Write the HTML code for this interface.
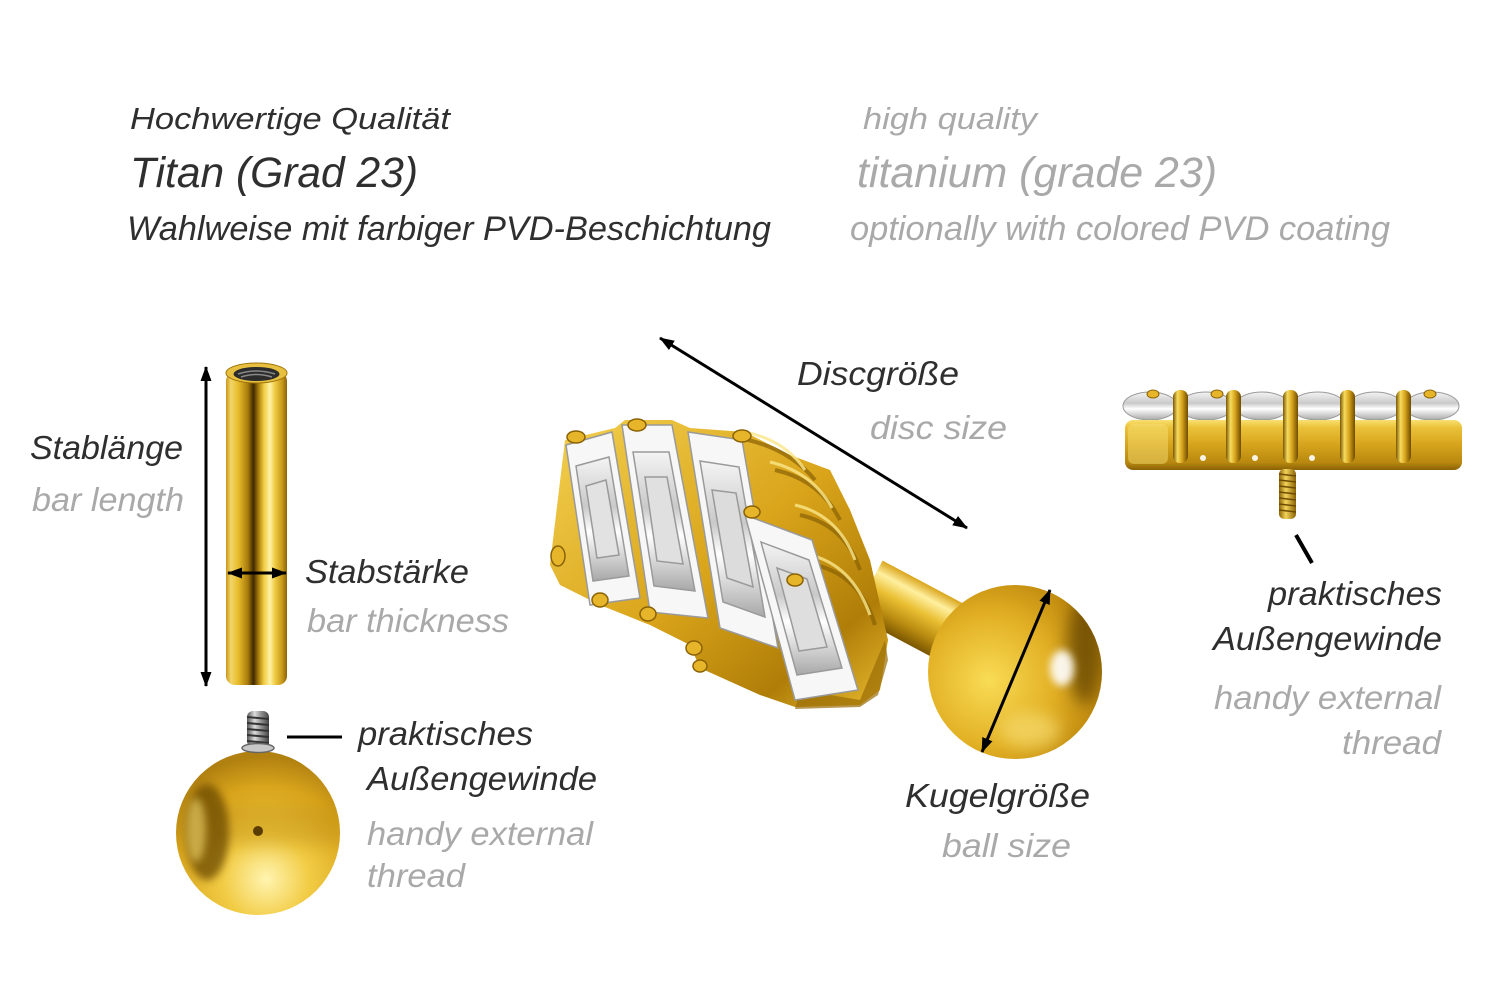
<!DOCTYPE html>
<html>
<head>
<meta charset="utf-8">
<style>
html,body{margin:0;padding:0;background:#fff;}
body{width:1500px;height:1001px;overflow:hidden;}
svg{display:block;}
.t{font-family:"Liberation Sans",Arial,sans-serif;font-style:italic;}
.d{fill:#2f2f2f;}
.g{fill:#a9a9a9;}
</style>
</head>
<body>
<svg width="1500" height="1001" viewBox="0 0 1500 1001" xmlns="http://www.w3.org/2000/svg">
<defs>
  <marker id="ah" markerUnits="userSpaceOnUse" markerWidth="15" markerHeight="11" viewBox="0 0 15 11" refX="14" refY="5.5" orient="auto-start-reverse">
    <path d="M0,0 L15,5.5 L0,11 z" fill="#000"/>
  </marker>
  <linearGradient id="gCyl" x1="0" y1="0" x2="1" y2="0">
    <stop offset="0" stop-color="#c9961a"/>
    <stop offset="0.08" stop-color="#f2d56a"/>
    <stop offset="0.2" stop-color="#e8bd2c"/>
    <stop offset="0.36" stop-color="#a77a0c"/>
    <stop offset="0.45" stop-color="#3e2800"/>
    <stop offset="0.53" stop-color="#a77a0c"/>
    <stop offset="0.62" stop-color="#f0cb40"/>
    <stop offset="0.72" stop-color="#fff3a8"/>
    <stop offset="0.8" stop-color="#f0cd45"/>
    <stop offset="0.92" stop-color="#c8981a"/>
    <stop offset="1" stop-color="#8c6408"/>
  </linearGradient>
  <radialGradient id="gBallL" cx="0.55" cy="0.78" r="0.75">
    <stop offset="0" stop-color="#fff4b0"/>
    <stop offset="0.35" stop-color="#f2cc45"/>
    <stop offset="0.75" stop-color="#d9a51c"/>
    <stop offset="1" stop-color="#b08010"/>
  </radialGradient>
  <radialGradient id="gBallM" cx="0.35" cy="0.55" r="0.75">
    <stop offset="0" stop-color="#f9dc55"/>
    <stop offset="0.5" stop-color="#e2b024"/>
    <stop offset="0.85" stop-color="#c08a0e"/>
    <stop offset="1" stop-color="#9a6c06"/>
  </radialGradient>
  <linearGradient id="gBar" x1="0" y1="0" x2="0" y2="1">
    <stop offset="0" stop-color="#d9a51c"/>
    <stop offset="0.2" stop-color="#fff0a0"/>
    <stop offset="0.45" stop-color="#eabf32"/>
    <stop offset="0.75" stop-color="#b88a10"/>
    <stop offset="1" stop-color="#7a5600"/>
  </linearGradient>
  <linearGradient id="gDisc" x1="0" y1="0" x2="1" y2="1">
    <stop offset="0" stop-color="#f3d050"/>
    <stop offset="0.5" stop-color="#d9a41a"/>
    <stop offset="0.8" stop-color="#b07e08"/>
    <stop offset="1" stop-color="#e8bb30"/>
  </linearGradient>
  <linearGradient id="gRight" x1="0" y1="0" x2="0" y2="1">
    <stop offset="0" stop-color="#f8e070"/>
    <stop offset="0.15" stop-color="#ebc23a"/>
    <stop offset="0.5" stop-color="#d6a41c"/>
    <stop offset="0.85" stop-color="#b8880f"/>
    <stop offset="1" stop-color="#8a6205"/>
  </linearGradient>
  <linearGradient id="gProng" x1="0" y1="0" x2="1" y2="0">
    <stop offset="0" stop-color="#7a5600"/>
    <stop offset="0.3" stop-color="#f6dc60"/>
    <stop offset="0.6" stop-color="#d9a51c"/>
    <stop offset="1" stop-color="#6e4c00"/>
  </linearGradient>
  <linearGradient id="gSilver" x1="0" y1="0" x2="1" y2="0">
    <stop offset="0" stop-color="#555"/>
    <stop offset="0.35" stop-color="#ddd"/>
    <stop offset="0.6" stop-color="#999"/>
    <stop offset="1" stop-color="#444"/>
  </linearGradient>
  <linearGradient id="gThrG" x1="0" y1="0" x2="1" y2="0">
    <stop offset="0" stop-color="#8a6205"/>
    <stop offset="0.4" stop-color="#f3d35a"/>
    <stop offset="1" stop-color="#8a6205"/>
  </linearGradient>
  <linearGradient id="gStone" x1="0" y1="0" x2="0" y2="1">
    <stop offset="0" stop-color="#f4f4f4"/>
    <stop offset="0.4" stop-color="#c9c9c9"/>
    <stop offset="0.6" stop-color="#ffffff"/>
    <stop offset="1" stop-color="#a8a8a8"/>
  </linearGradient>
  <filter id="blur4" x="-50%" y="-50%" width="200%" height="200%"><feGaussianBlur stdDeviation="4"/></filter>
  <filter id="blur8" x="-50%" y="-50%" width="200%" height="200%"><feGaussianBlur stdDeviation="8"/></filter>
  <clipPath id="cBallL"><circle cx="258" cy="833" r="82"/></clipPath>
  <clipPath id="cBallM"><circle cx="1015" cy="672" r="87"/></clipPath>
</defs>

<!-- HEADER TEXT -->
<text class="t d" x="130" y="129" font-size="31" textLength="320" lengthAdjust="spacingAndGlyphs">Hochwertige Qualität</text>
<text class="t d" x="130" y="187" font-size="43" textLength="288" lengthAdjust="spacingAndGlyphs">Titan (Grad 23)</text>
<text class="t d" x="127" y="240" font-size="34" textLength="644" lengthAdjust="spacingAndGlyphs">Wahlweise mit farbiger PVD-Beschichtung</text>
<text class="t g" x="863" y="129" font-size="31" textLength="174" lengthAdjust="spacingAndGlyphs">high quality</text>
<text class="t g" x="857" y="187" font-size="43" textLength="360" lengthAdjust="spacingAndGlyphs">titanium (grade 23)</text>
<text class="t g" x="850" y="240" font-size="34" textLength="540" lengthAdjust="spacingAndGlyphs">optionally with colored PVD coating</text>

<!-- LEFT BAR -->
<rect x="226" y="372" width="61" height="313" rx="9" ry="9" fill="url(#gCyl)"/>
<ellipse cx="256.5" cy="373" rx="30.5" ry="10" fill="#e8c040" stroke="#a07408" stroke-width="1"/>
<ellipse cx="256.5" cy="374" rx="23" ry="7" fill="#2c2c2c"/>
<path d="M238,374 Q256,368 275,374 M241,377 Q256,372 272,377" stroke="#888" stroke-width="1.5" fill="none"/>

<!-- vertical arrow -->
<line x1="206" y1="367" x2="206" y2="686" stroke="#000" stroke-width="3" marker-start="url(#ah)" marker-end="url(#ah)"/>
<!-- horizontal arrow -->
<line x1="228" y1="573" x2="286" y2="573" stroke="#000" stroke-width="3" marker-start="url(#ah)" marker-end="url(#ah)"/>

<!-- LEFT BALL -->
<circle cx="258" cy="833" r="82" fill="url(#gBallL)"/>
<g clip-path="url(#cBallL)">
  <rect x="176" y="805" width="170" height="40" fill="#b8860e" opacity="0.35" filter="url(#blur8)"/>
  <ellipse cx="207" cy="832" rx="22" ry="48" fill="#6a4800" opacity="0.75" filter="url(#blur4)"/>
  <ellipse cx="196" cy="830" rx="10" ry="32" fill="#f6dc70" opacity="0.6" filter="url(#blur4)"/>
</g>
<circle cx="258" cy="831" r="5" fill="#5a3c00"/>
<!-- thread -->
<rect x="247" y="711" width="22" height="36" rx="6" fill="url(#gSilver)"/>
<g stroke="#333" stroke-width="2">
  <line x1="247" y1="717" x2="269" y2="719"/>
  <line x1="247" y1="723" x2="269" y2="725"/>
  <line x1="247" y1="729" x2="269" y2="731"/>
  <line x1="247" y1="735" x2="269" y2="737"/>
  <line x1="247" y1="741" x2="269" y2="743"/>
</g>
<ellipse cx="258" cy="748" rx="16" ry="4.5" fill="#c8c8c8" stroke="#666" stroke-width="1.5"/>
<line x1="287" y1="737" x2="342" y2="737" stroke="#000" stroke-width="3"/>

<!-- LABELS LEFT -->
<text class="t d" x="30" y="459" font-size="33" textLength="153" lengthAdjust="spacingAndGlyphs">Stablänge</text>
<text class="t g" x="32" y="511" font-size="33" textLength="152" lengthAdjust="spacingAndGlyphs">bar length</text>
<text class="t d" x="305" y="583" font-size="33" textLength="164" lengthAdjust="spacingAndGlyphs">Stabstärke</text>
<text class="t g" x="307" y="632" font-size="33" textLength="202" lengthAdjust="spacingAndGlyphs">bar thickness</text>
<text class="t d" x="358" y="745" font-size="33" textLength="175" lengthAdjust="spacingAndGlyphs">praktisches</text>
<text class="t d" x="367" y="790" font-size="33" textLength="230" lengthAdjust="spacingAndGlyphs">Außengewinde</text>
<text class="t g" x="367" y="845" font-size="33" textLength="226" lengthAdjust="spacingAndGlyphs">handy external</text>
<text class="t g" x="367" y="887" font-size="33" textLength="98" lengthAdjust="spacingAndGlyphs">thread</text>

<!-- MIDDLE PIECE -->
<!-- bar -->
<g transform="translate(868,588) rotate(28)">
  <rect x="0" y="-31" width="140" height="62" fill="url(#gBar)"/>
  <ellipse cx="128" cy="0" rx="11" ry="36" fill="#e9bd30" stroke="#9a6c06" stroke-width="2"/>
</g>
<!-- setting base -->
<polygon points="552,548 565,440 615,428 625,420 672,420 690,428 745,432 790,455 830,470 850,510 870,560 888,640 880,690 860,705 795,707 760,695 700,668 690,645 650,625 600,605 560,585 550,565" fill="url(#gDisc)"/>
<!-- ridges on right -->
<g fill="none" stroke="#8a6205" stroke-width="4" opacity="0.7">
  <path d="M748,440 Q790,450 815,480"/>
  <path d="M775,470 Q820,480 840,520"/>
  <path d="M800,515 Q845,525 860,570"/>
  <path d="M815,565 Q860,575 875,625"/>
</g>
<g fill="none" stroke="#fbe78a" stroke-width="3" opacity="0.8">
  <path d="M745,432 Q785,440 805,470"/>
  <path d="M770,462 Q812,472 832,508"/>
  <path d="M795,505 Q838,515 855,560"/>
  <path d="M810,555 Q852,565 870,615"/>
</g>
<!-- bottom plate shading -->
<polygon points="800,690 860,700 885,640 888,660 878,695 860,707 795,709" fill="#9a6c06" opacity="0.7"/>
<!-- stones -->
<g stroke="#9a9a9a" stroke-width="1.5">
  <polygon points="566,445 612,432 640,598 590,605" fill="#f7f7f7"/>
  <polygon points="576,466 609,457 629,576 593,581" fill="url(#gStone)"/>
  <polygon points="586,486 606,480 619,555 597,558" fill="#e2e2e2"/>

  <polygon points="622,425 672,425 708,618 650,612" fill="#f7f7f7"/>
  <polygon points="633,452 669,452 695,591 654,586" fill="url(#gStone)"/>
  <polygon points="645,477 667,477 683,564 657,561" fill="#e0e0e0"/>

  <polygon points="688,432 742,440 778,648 720,628" fill="#f7f7f7"/>
  <polygon points="700,461 739,467 765,617 723,602" fill="url(#gStone)"/>
  <polygon points="712,490 736,493 753,587 727,578" fill="#dcdcdc"/>

  <polygon points="745,515 812,540 858,690 795,700" fill="#f7f7f7"/>
  <polygon points="761,542 809,560 842,668 797,675" fill="url(#gStone)"/>
  <polygon points="777,568 807,579 827,647 799,651" fill="#dedede"/>
</g>
<!-- prongs -->
<g fill="#e6b52a" stroke="#8a6205" stroke-width="1.5">
  <ellipse cx="576" cy="437" rx="9" ry="6"/>
  <ellipse cx="637" cy="425" rx="9" ry="6"/>
  <ellipse cx="742" cy="436" rx="9" ry="6"/>
  <ellipse cx="558" cy="556" rx="7" ry="10"/>
  <ellipse cx="600" cy="600" rx="8" ry="7"/>
  <ellipse cx="648" cy="614" rx="8" ry="7"/>
  <ellipse cx="694" cy="648" rx="8" ry="7"/>
  <ellipse cx="700" cy="666" rx="7" ry="6"/>
  <ellipse cx="752" cy="512" rx="8" ry="6"/>
  <ellipse cx="795" cy="580" rx="8" ry="6"/>
</g>
<!-- ball -->
<circle cx="1015" cy="672" r="87" fill="url(#gBallM)"/>
<g clip-path="url(#cBallM)">
  <ellipse cx="1085" cy="650" rx="18" ry="55" fill="#5a3c00" opacity="0.7" filter="url(#blur8)"/>
  <ellipse cx="1062" cy="668" rx="12" ry="18" fill="#ffffff" opacity="0.9" filter="url(#blur4)"/>
  <ellipse cx="1030" cy="730" rx="30" ry="18" fill="#f6dc70" opacity="0.7" filter="url(#blur8)"/>
</g>
<!-- arrows middle -->
<line x1="660" y1="338" x2="967" y2="528" stroke="#000" stroke-width="3" marker-start="url(#ah)" marker-end="url(#ah)"/>
<line x1="1050" y1="590" x2="982" y2="752" stroke="#000" stroke-width="3" marker-start="url(#ah)" marker-end="url(#ah)"/>

<text class="t d" x="797" y="385" font-size="33" textLength="162" lengthAdjust="spacingAndGlyphs">Discgröße</text>
<text class="t g" x="870" y="439" font-size="33" textLength="137" lengthAdjust="spacingAndGlyphs">disc size</text>
<text class="t d" x="905" y="807" font-size="33" textLength="185" lengthAdjust="spacingAndGlyphs">Kugelgröße</text>
<text class="t g" x="942" y="857" font-size="33" textLength="129" lengthAdjust="spacingAndGlyphs">ball size</text>

<!-- RIGHT PIECE -->
<!-- stones -->
<g stroke="#9a9a9a" stroke-width="1">
  <ellipse cx="1150" cy="406" rx="27" ry="14" fill="url(#gStone)"/>
  <ellipse cx="1206" cy="406" rx="27" ry="14" fill="url(#gStone)"/>
  <ellipse cx="1262" cy="406" rx="27" ry="14" fill="url(#gStone)"/>
  <ellipse cx="1318" cy="406" rx="27" ry="14" fill="url(#gStone)"/>
  <ellipse cx="1375" cy="406" rx="27" ry="14" fill="url(#gStone)"/>
  <ellipse cx="1432" cy="406" rx="27" ry="14" fill="url(#gStone)"/>
</g>
<rect x="1125" y="420" width="337" height="50" rx="8" fill="url(#gRight)"/>
<rect x="1128" y="424" width="40" height="40" rx="6" fill="#f8e27a" opacity="0.45"/>
<g fill="url(#gProng)">
  <rect x="1173" y="390" width="15" height="73" rx="7"/>
  <rect x="1226" y="390" width="15" height="73" rx="7"/>
  <rect x="1283" y="390" width="15" height="73" rx="7"/>
  <rect x="1340" y="390" width="15" height="73" rx="7"/>
  <rect x="1396" y="390" width="15" height="73" rx="7"/>
</g>
<g fill="#e6b52a" stroke="#8a6205" stroke-width="1">
  <ellipse cx="1153" cy="394" rx="6" ry="4"/>
  <ellipse cx="1217" cy="394" rx="6" ry="4"/>
  <ellipse cx="1430" cy="394" rx="6" ry="4"/>
</g>
<g fill="#fff" opacity="0.9">
  <circle cx="1203" cy="458" r="3"/>
  <circle cx="1255" cy="458" r="3"/>
  <circle cx="1312" cy="458" r="3"/>
</g>
<!-- thread -->
<rect x="1279" y="469" width="17" height="50" rx="5" fill="url(#gThrG)"/>
<g stroke="#6e4c00" stroke-width="1.5">
  <line x1="1279" y1="474" x2="1296" y2="476"/>
  <line x1="1279" y1="480" x2="1296" y2="482"/>
  <line x1="1279" y1="486" x2="1296" y2="488"/>
  <line x1="1279" y1="492" x2="1296" y2="494"/>
  <line x1="1279" y1="498" x2="1296" y2="500"/>
  <line x1="1279" y1="504" x2="1296" y2="506"/>
  <line x1="1279" y1="510" x2="1296" y2="512"/>
</g>
<line x1="1296" y1="535" x2="1312" y2="563" stroke="#000" stroke-width="4"/>

<text class="t d" x="1442" y="605" font-size="33" text-anchor="end" textLength="174" lengthAdjust="spacingAndGlyphs">praktisches</text>
<text class="t d" x="1442" y="650" font-size="33" text-anchor="end" textLength="229" lengthAdjust="spacingAndGlyphs">Außengewinde</text>
<text class="t g" x="1441" y="709" font-size="33" text-anchor="end" textLength="227" lengthAdjust="spacingAndGlyphs">handy external</text>
<text class="t g" x="1441" y="754" font-size="33" text-anchor="end" textLength="99" lengthAdjust="spacingAndGlyphs">thread</text>
</svg>
</body>
</html>
